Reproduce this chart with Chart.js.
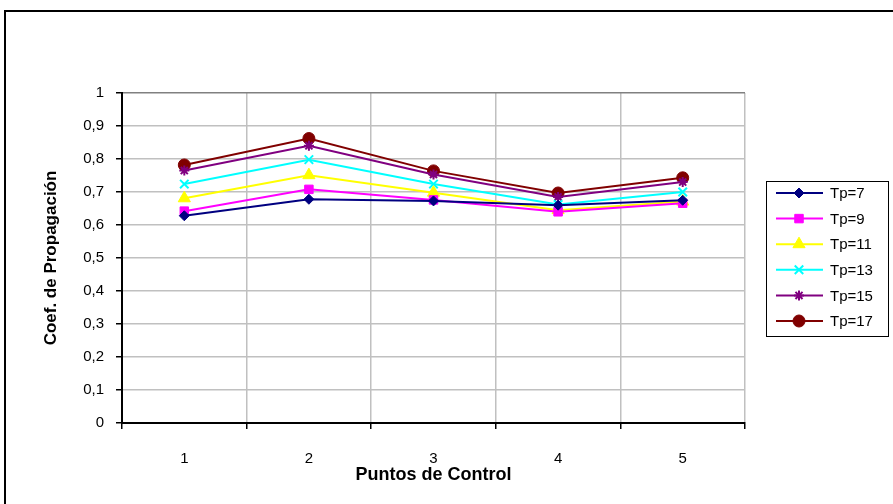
<!doctype html>
<html lang="es">
<head>
    <meta charset="utf-8">
    <title>Coef. de Propagación</title>
    <style>
        body { margin: 0; background: #fff; }
        #frame {
            position: absolute; left: 4px; top: 10px;
            width: 900px; height: 510px;
            border: 2px solid #000; box-sizing: border-box;
        }
        #wrap { position: absolute; left: 0; top: 0; width: 893px; height: 504px; }
    </style>
</head>
<body>
    <div id="frame"></div>
    <div id="wrap"><canvas id="myChart" width="893" height="504"></canvas></div>

    <script src="https://cdn.jsdelivr.net/npm/chart.js@4.4.0/dist/chart.umd.min.js"></script>
    <script>
        // categorias y series
        let puntos = ['1', '2', '3', '4', '5'];
        let tp7 = [0.628, 0.678, 0.673, 0.660, 0.675];
        let tp9 = [0.642, 0.708, 0.676, 0.640, 0.666];
        let tp11 = [0.681, 0.751, 0.698, 0.645, 0.671];
        let tp13 = [0.724, 0.798, 0.724, 0.662, 0.700];
        let tp15 = [0.765, 0.840, 0.753, 0.685, 0.730];
        let tp17 = [0.782, 0.862, 0.764, 0.697, 0.743];
        let yTicks = [0, 0.1, 0.2, 0.3, 0.4, 0.5, 0.6, 0.7, 0.8, 0.9, 1];

        const FONT = "'Liberation Sans', Arial, sans-serif";

        function serie(label, data, color, style, radius) {
            return {
                label: label,
                data: data,
                borderColor: color,
                backgroundColor: color,
                borderWidth: 2,
                pointStyle: style,
                pointRadius: radius,
                pointHoverRadius: radius,
                pointBorderWidth: (style === 'crossRot' || style === 'star') ? 2 : 1,
                tension: 0
            };
        }

        // leyenda con caja, linea + marcador
        const boxLegend = {
            id: 'boxLegend',
            afterDraw(chart) {
                const ctx = chart.ctx;
                const x0 = 766, y0 = 181, w = 122, h = 155;
                ctx.save();
                ctx.fillStyle = '#fff';
                ctx.fillRect(x0, y0, w, h);
                ctx.strokeStyle = '#000';
                ctx.lineWidth = 1;
                ctx.strokeRect(x0 + 0.5, y0 + 0.5, w, h);
                ctx.font = '15px ' + FONT;
                ctx.textBaseline = 'middle';
                chart.data.datasets.forEach((ds, i) => {
                    const y = 193 + i * 25.6;
                    ctx.strokeStyle = ds.borderColor;
                    ctx.lineWidth = 2;
                    ctx.beginPath();
                    ctx.moveTo(776, y);
                    ctx.lineTo(823, y);
                    ctx.stroke();
                    ctx.fillStyle = ds.backgroundColor;
                    ctx.lineWidth = ds.pointBorderWidth;
                    Chart.helpers.drawPoint(ctx, {
                        pointStyle: ds.pointStyle,
                        radius: ds.pointRadius,
                        borderWidth: ds.pointBorderWidth
                    }, 799, y);
                    ctx.fillStyle = '#000';
                    ctx.fillText(ds.label, 830, y + 1);
                });
                ctx.restore();
            }
        };

        window.onload = function () {
            let ctx = document.getElementById('myChart').getContext('2d');

            let data = {
                labels: puntos,
                datasets: [
                    serie('Tp=7', tp7, '#000080', 'rectRot', 5),
                    serie('Tp=9', tp9, '#FF00FF', 'rect', 6),
                    serie('Tp=11', tp11, '#FFFF00', 'triangle', 7),
                    serie('Tp=13', tp13, '#00FFFF', 'crossRot', 6),
                    serie('Tp=15', tp15, '#800080', 'star', 5),
                    serie('Tp=17', tp17, '#800000', 'circle', 6)
                ]
            };

            let options = {
                responsive: false,
                animation: false,
                layout: { padding: { top: 93, right: 148, left: 0, bottom: 0 } },
                plugins: {
                    legend: { display: false },
                    tooltip: { enabled: false }
                },
                scales: {
                    x: {
                        offset: true,
                        grid: {
                            offset: true,
                            color: (c) => c.index === puntos.length ? '#808080' : '#C0C0C0',
                            lineWidth: 1.5,
                            tickColor: '#000',
                            tickLength: 6
                        },
                        border: { color: '#000', width: 2 },
                        ticks: { color: '#000', font: { family: FONT, size: 15 }, padding: 21 },
                        title: {
                            display: true, text: 'Puntos de Control', color: '#000',
                            font: { family: FONT, size: 18, weight: 'bold' },
                            padding: { top: 0, bottom: 18 }
                        },
                        afterFit: (s) => { s.height = 81; }
                    },
                    y: {
                        min: 0, max: 1,
                        afterBuildTicks: (s) => { s.ticks = yTicks.map(v => ({ value: v })); },
                        grid: {
                            color: (c) => c.tick && c.tick.value === 1 ? '#808080' : '#C0C0C0',
                            lineWidth: 1.5,
                            tickColor: '#000',
                            tickLength: 6
                        },
                        border: { color: '#000', width: 2 },
                        ticks: {
                            color: '#000', font: { family: FONT, size: 15 }, padding: 12,
                            callback: (v) => String(Math.round(v * 10) / 10).replace('.', ',')
                        },
                        title: {
                            display: true, text: 'Coef. de Propagación', color: '#000',
                            font: { family: FONT, size: 17, weight: 'bold' },
                            padding: { top: 41, bottom: 0 }
                        },
                        afterFit: (s) => { s.width = 122; }
                    }
                }
            };

            new Chart(ctx, { type: 'line', data: data, options: options, plugins: [boxLegend] });
        };
    </script>
</body>
</html>
